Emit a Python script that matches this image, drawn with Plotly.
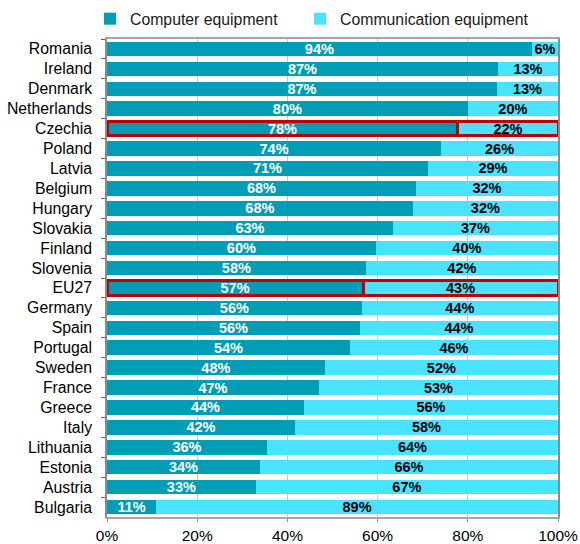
import plotly.graph_objects as go

countries = ["Romania", "Ireland", "Denmark", "Netherlands", "Czechia", "Poland", "Latvia",
             "Belgium", "Hungary", "Slovakia", "Finland", "Slovenia", "EU27", "Germany",
             "Spain", "Portugal", "Sweden", "France", "Greece", "Italy", "Lithuania",
             "Estonia", "Austria", "Bulgaria"]
computer_share = [94.2, 86.7, 86.5, 80.0, 77.8, 74.1, 71.2, 68.5, 67.8, 63.4, 59.6, 57.4, 56.8,
                  56.5, 56.1, 53.9, 48.3, 47.0, 43.7, 41.7, 35.5, 33.9, 33.0, 10.9]
computer_labels = [94, 87, 87, 80, 78, 74, 71, 68, 68, 63, 60, 58, 57, 56, 56, 54, 48, 47, 44, 42,
                   36, 34, 33, 11]
communication_labels = [6, 13, 13, 20, 22, 26, 29, 32, 32, 37, 40, 42, 43, 44, 44, 46, 52, 53, 56,
                        58, 64, 66, 67, 89]
series_names = ["Computer equipment", "Communication equipment"]
highlighted = ["Czechia", "EU27"]
x_ticks = [0, 20, 40, 60, 80, 100]

communication_share = [100 - v for v in computer_share]
line_colors = ["#C00000" if c in highlighted else "rgba(0,0,0,0)" for c in countries]
line_widths = [3 if c in highlighted else 0 for c in countries]

FONT = "Liberation Sans, Arial, sans-serif"
PAD = "\u00a0" * 4  # extra spacing between legend entries

fig = go.Figure()
fig.add_trace(go.Bar(
    y=countries, x=computer_share, orientation="h", name=series_names[0] + PAD,
    marker=dict(color="#009DB6", line=dict(color=line_colors, width=line_widths)),
    text=[f"{v}%" for v in computer_labels], textposition="inside",
    insidetextanchor="middle", textangle=0, constraintext="none",
    textfont=dict(family=FONT, size=14.5, color="white", weight="bold"),
    hoverinfo="skip",
))
fig.add_trace(go.Bar(
    y=countries, x=communication_share, orientation="h", name=series_names[1],
    marker=dict(color="#4AE3FF", line=dict(color=line_colors, width=line_widths)),
    text=[f"{v}%" for v in communication_labels], textposition="inside",
    insidetextanchor="middle", textangle=0, constraintext="none",
    textfont=dict(family=FONT, size=14.5, color="black", weight="bold"),
    hoverinfo="skip",
))

fig.update_layout(
    width=580, height=544,
    barmode="stack", bargap=0.27,
    margin=dict(l=107, r=22, t=39, b=27, autoexpand=False),
    paper_bgcolor="white", plot_bgcolor="white",
    font=dict(family=FONT, size=15.8, color="black"),
    legend=dict(orientation="h", xref="container", yref="container",
                x=90 / 580, xanchor="left", y=0.9965, yanchor="top",
                font=dict(size=15.8, color="#1a1a1a"), itemwidth=30,
                traceorder="normal", bgcolor="rgba(0,0,0,0)"),
    xaxis=dict(range=[0, 100], tickvals=x_ticks, ticktext=[f"{v}%" for v in x_ticks],
               showgrid=True, gridcolor="#C8C8C8", gridwidth=1, zeroline=False,
               ticks="outside", ticklen=3, tickcolor="#909090",
               showline=True, mirror=True, linecolor="#A6A6A6", linewidth=2,
               tickfont=dict(size=15.5, color="black"), fixedrange=True, automargin=False),
    yaxis=dict(autorange="reversed", showline=True, mirror=True, linecolor="#8C8C8C",
               linewidth=1.5, ticks="outside", tickson="boundaries", ticklen=4,
               tickcolor="#606060", tickfont=dict(size=15.8, color="black"),
               ticklabelstandoff=10, fixedrange=True, automargin=False),
)

fig.write_html("out.html", config={"displayModeBar": False},
               post_script="document.body.style.margin='0';")
